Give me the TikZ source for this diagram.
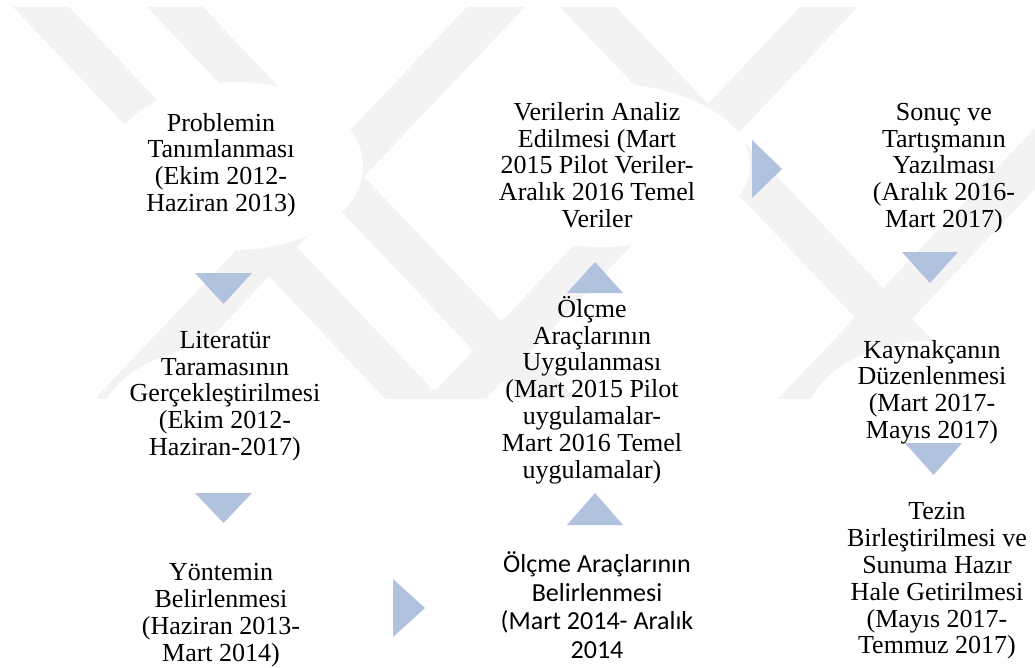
\documentclass[tikz,border=0pt]{standalone}
\usepackage{fontspec}
\setmainfont{Liberation Serif}
\newfontfamily\calibrifont{Carlito}
\usepackage{tikz}
\usetikzlibrary{calc}

\definecolor{arrowblue}{HTML}{B0C2DE}
\definecolor{wmgray}{HTML}{F3F3F3}
\tikzset{
  stepnode/.style={align=center,inner sep=0pt,font=\fontsize{26}{26.8}\selectfont},
  stepsans/.style={align=center,inner sep=0pt,font=\calibrifont\fontsize{26}{28.6}\selectfont},
  arrowtri/.style={fill=arrowblue},
  wmband/.style={fill=wmgray},
}

\begin{document}
\begin{tikzpicture}[x=1pt,y=-1pt]
    \useasboundingbox (0,0) rectangle (1035,668);

% faint logo behind the steps
    \scope
    \clip (0,0) rectangle (1035,398);
    \foreach \a in {13,147,560}
        \fill[wmband] (\a,7) -- ++(56,0) -- ++(380,400) -- ++(-56,0) -- cycle;
    \foreach \a in {467,800,1150}
        \fill[wmband] (\a,7) -- ++(58,0) -- ++(-380,400) -- ++(-58,0) -- cycle;
    \fill[white] (236,166) ellipse (127 and 84)
        (602,165) ellipse (148 and 82)
        (225,430) ellipse (127 and 84)
        (932,425) ellipse (127 and 84);
    \endscope

    % left column
    \node[stepnode] (problem) at (221,165) {Problemin\\Tanımlanması\\(Ekim 2012-\\Haziran 2013)};
    \node[stepnode] (literatur) at (225,396) {Literatür\\Taramasının\\Gerçekleştirilmesi\\(Ekim 2012-\\Haziran-2017)};
    \node[stepnode] (yontem) at (221,615) {Yöntemin\\Belirlenmesi\\(Haziran 2013-\\Mart 2014)};
    % middle column
    \node[stepsans] (olcmebel) at (597,605) {Ölçme Araçlarının\\Belirlenmesi\\(Mart 2014- Aralık\\2014};
    \node[stepnode] (olcmeuyg) at (592,390) {Ölçme\\Araçlarının\\Uygulanması\\(Mart 2015 Pilot\\uygulamalar-\\Mart 2016 Temel\\uygulamalar)};
    \node[stepnode] (analiz) at (597,165) {Verilerin Analiz\\Edilmesi (Mart\\2015 Pilot Veriler-\\Aralık 2016 Temel\\Veriler};
    % right column
    \node[stepnode] (sonuc) at (944,168) {Sonuç ve\\Tartışmanın\\Yazılması\\(Aralık 2016-\\Mart 2017)};
    \node[stepnode] (kaynak) at (932,392) {Kaynakçanın\\Düzenlenmesi\\(Mart 2017-\\Mayıs 2017)};
    \node[stepnode] (tez) at (937,581) {Tezin\\Birleştirilmesi ve\\Sunuma Hazır\\Hale Getirilmesi\\(Mayıs 2017-\\Temmuz 2017)};

    % arrows between the steps
    \fill[arrowtri] (195,273) -- (252,273) -- (223.5,304) -- cycle;
    \fill[arrowtri] (195,493) -- (252,493) -- (223.5,523) -- cycle;
    \fill[arrowtri] (393,579) -- (425,608) -- (393,637) -- cycle;
    \fill[arrowtri] (567,525) -- (623,525) -- (595,493) -- cycle;
    \fill[arrowtri] (567,293) -- (623,293) -- (595,262) -- cycle;
    \fill[arrowtri] (752,140) -- (782,169) -- (752,198) -- cycle;
    \fill[arrowtri] (902,252) -- (958,252) -- (930,283) -- cycle;
    \fill[arrowtri] (905,443) -- (962,443) -- (933.5,475) -- cycle;
\end{tikzpicture}
\end{document}
